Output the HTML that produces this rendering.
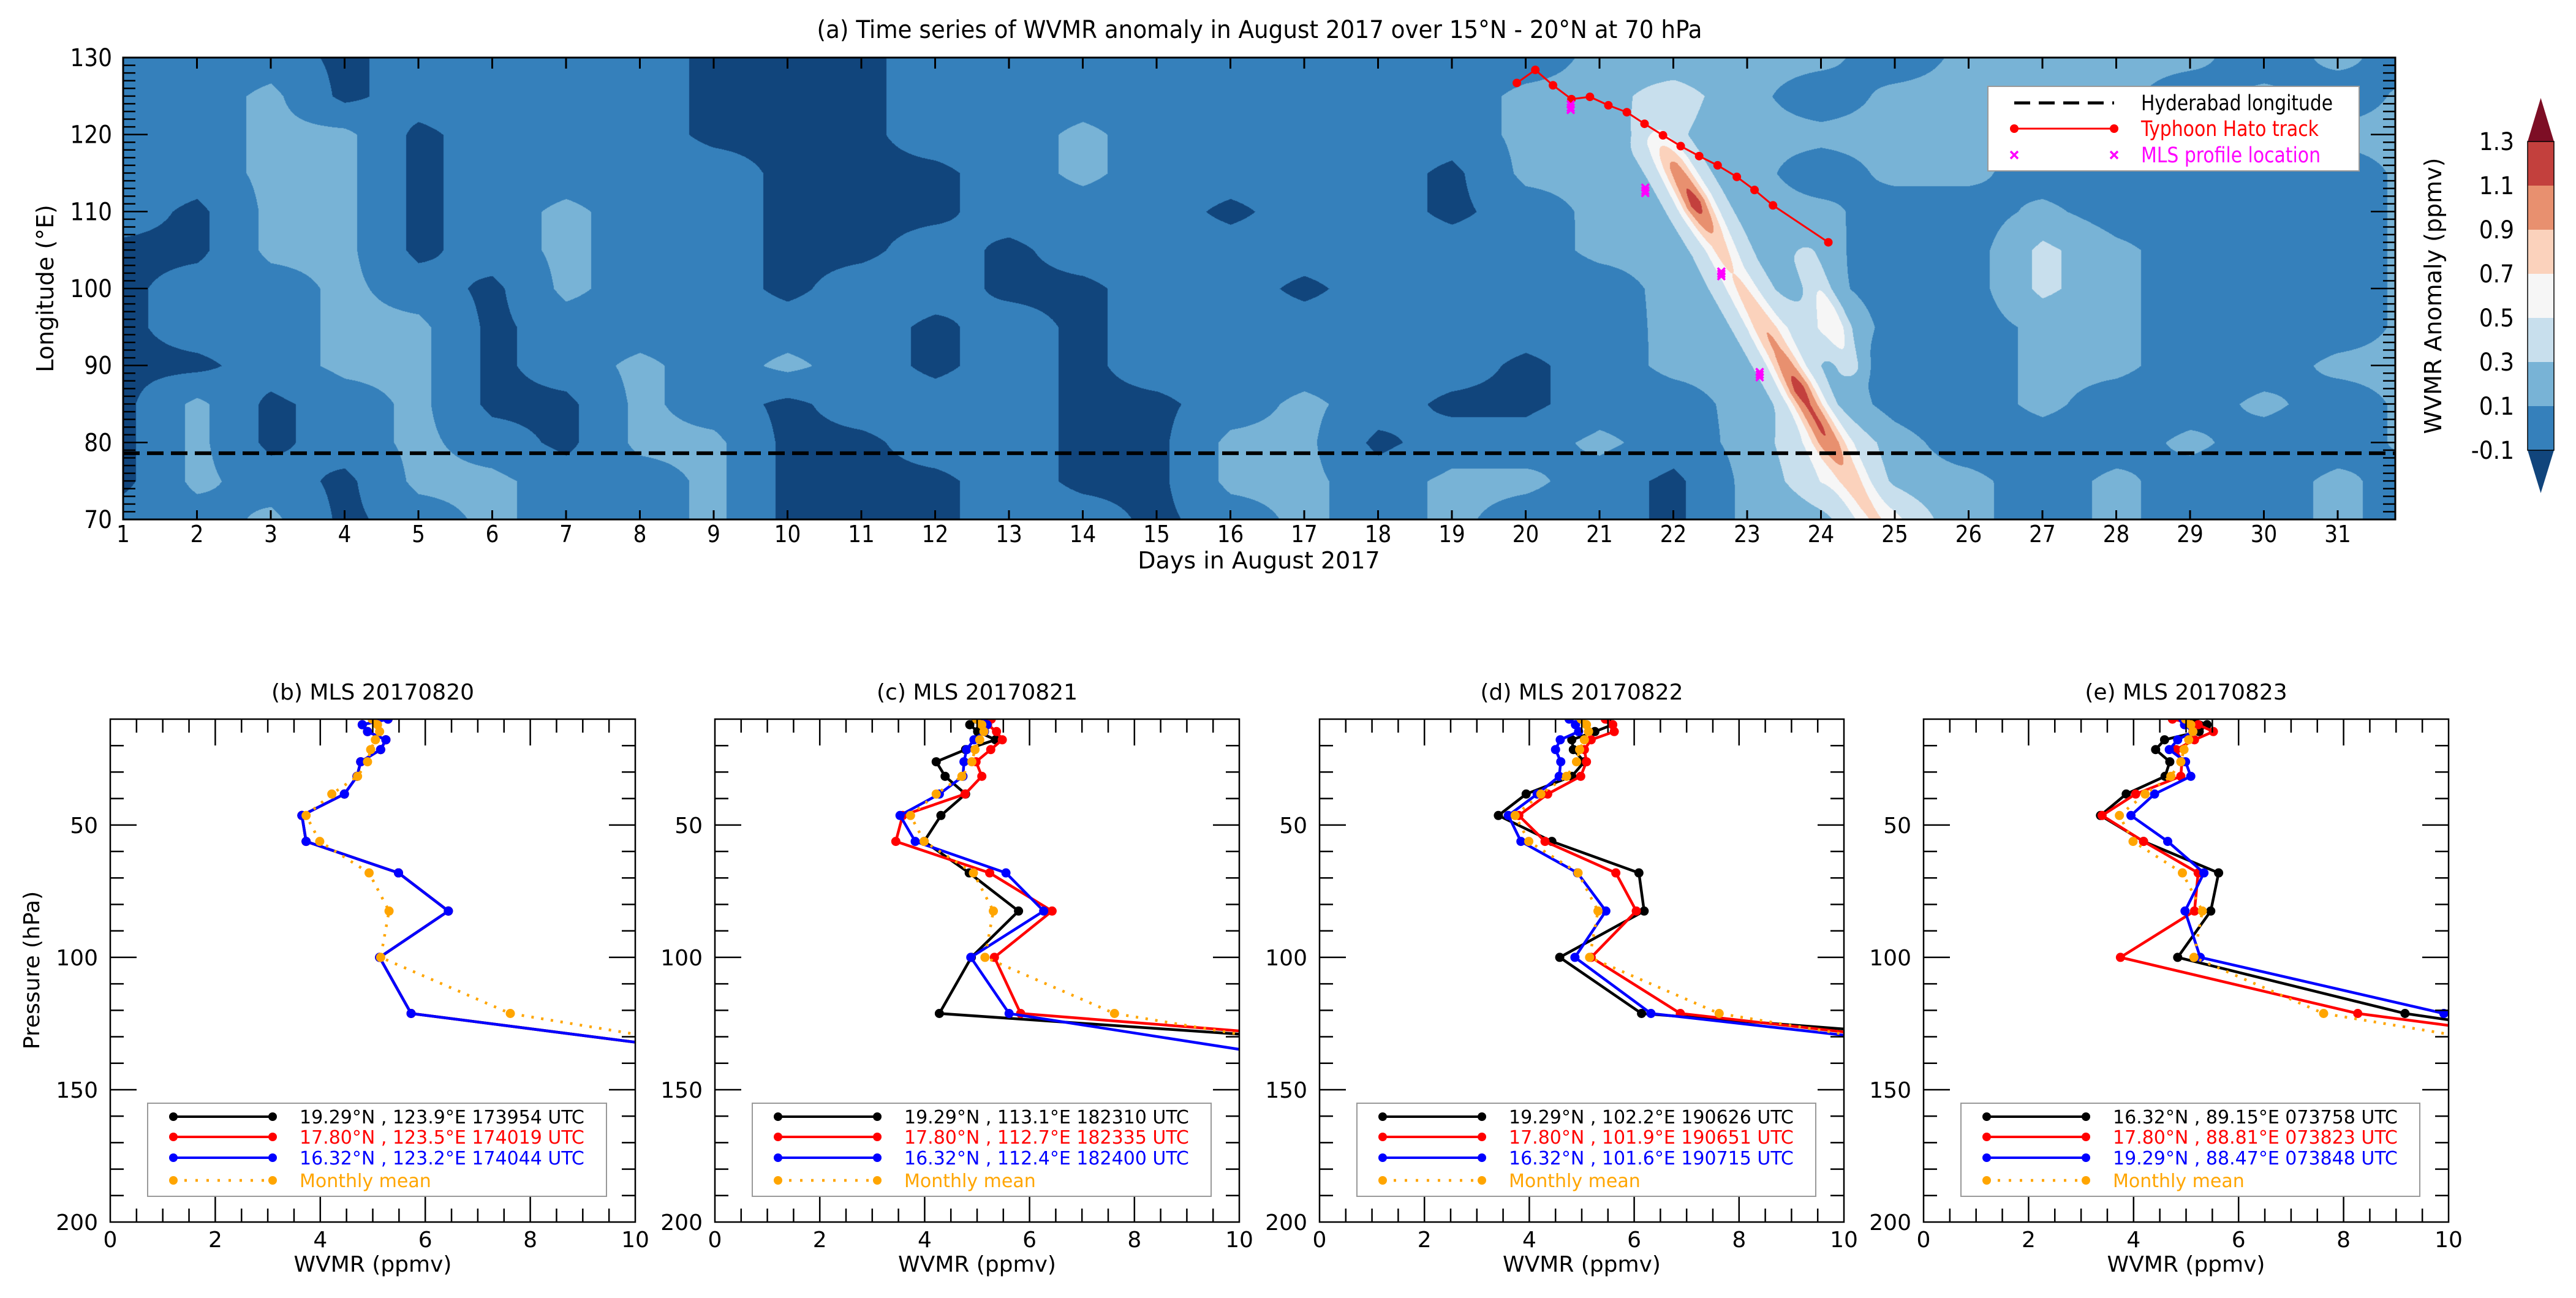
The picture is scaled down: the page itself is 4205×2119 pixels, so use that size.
<!DOCTYPE html>
<html><head><meta charset="utf-8"><style>
html,body{margin:0;padding:0;background:#fff;}
#wrap{position:relative;width:4205px;height:2119px;overflow:hidden;}
#hm{position:absolute;left:201px;top:94px;}
#svg{position:absolute;left:0;top:0;}
.nar{font-family:"Liberation Sans Narrow","DejaVu Sans Condensed","Liberation Sans",sans-serif;}
.dj{font-family:"DejaVu Sans","Liberation Sans",sans-serif;}
</style></head><body>
<div id="wrap">
<canvas id="hm" width="3709" height="754"></canvas>
<svg id="svg" width="4205" height="2119" xmlns="http://www.w3.org/2000/svg"></svg>
</div>
<script>
// ---------- panel (a) data ----------
const gridLons = [130,125,120,115,110,105,100,95,90,85,80,75,70];
// anomaly class per day (1..32) : 0=dark,1=mid,2=light,3=very light
const gridRows = [
"11101111000111111111222212222121",
"11201111000111111112232122221212",
"11220111000112111112222222211122",
"11220111100012111102222122111112",
"10220121100011101101222211211112",
"00220121100101111111222211321112",
"01121021101100110111122211321112",
"01122011111010111111122311221112",
"00122012121010111110122211221122",
"02012002101110012100112211211212",
"02012102200110022011212321112112",
"02102211200010022122102322121121",
"11201211200011012121102232121121"];
const classValues = [-0.15, 0, 0.15, 0.35, 0.6];
const streakDays  = [21.8,22.0,22.3,22.6,22.8,23.1,23.4,23.7,24.0,24.3,24.6,24.8];
const streakLons  = [119,116,111,106,102,97,92,87,82,77,72,69];
const streakPeaks = [0.3,0.6,0.85,0.45,0.35,0.45,0.55,0.85,0.65,0.4,0.3,0.2];
const streak2Days  = [23.8,24.1,24.4];
const streak2Lons  = [104,97,90];
const streak2Peaks = [0.25,0.35,0.25];
const trackDays = [19.88,20.13,20.37,20.62,20.87,21.12,21.37,21.61,21.86,22.10,22.35,22.60,22.86,23.10,23.35,24.10];
const trackLons = [126.7,128.4,126.4,124.6,124.9,123.8,122.9,121.4,119.9,118.5,117.2,116.0,114.5,112.8,110.8,106.0];
const mlsDays = [20.61,20.61,20.61,21.62,21.62,21.62,22.65,22.65,22.65,23.17,23.17,23.17];
const mlsLons = [123.9,123.5,123.2,113.1,112.7,112.4,102.2,101.9,101.6,89.15,88.81,88.47];
const hyderabadLon = 78.6;
const levelBounds = [-0.1,0.1,0.3,0.5,0.7,0.9,1.1,1.3];
const levelColors = ["#11457c","#3580bb","#78b3d6","#c8dfed","#f6f6f6","#fbd2bc","#e8906f","#c3403d","#7d0e25"];
const dayTicks = [1,2,3,4,5,6,7,8,9,10,11,12,13,14,15,16,17,18,19,20,21,22,23,24,25,26,27,28,29,30,31];
const lonTicks = [70,80,90,100,110,120,130];
const cbarTicks = ["1.3","1.1","0.9","0.7","0.5","0.3","0.1","-0.1"];

// ---------- profile data ----------
const pressures = [10,12.1,14.7,17.8,21.5,26.1,31.6,38.3,46.4,56.2,68.1,82.5,100,121.2,146.8];
const monthlyMean = [4.99,5.09,5.13,5.05,4.96,4.9,4.71,4.22,3.73,3.99,4.93,5.31,5.15,7.62,15.4];
const bBlack = [5.29,4.8,4.9,5.25,5.15,4.77,4.7,4.46,3.65,3.73,5.49,6.44,5.13,5.73,15.8];
const bRed   = [5.29,4.8,4.9,5.25,5.15,4.77,4.7,4.46,3.65,3.73,5.49,6.44,5.13,5.73,15.8];
const bBlue  = [5.29,4.8,4.9,5.25,5.15,4.77,4.7,4.46,3.65,3.73,5.49,6.44,5.13,5.73,15.8];
const cBlack = [4.98,4.86,5.01,5.35,4.78,4.22,4.39,4.78,4.31,3.99,4.85,5.79,4.89,4.28,23];
const cRed   = [5.27,5.2,5.37,5.48,5.26,4.98,5.09,4.77,3.58,3.45,5.24,6.43,5.33,5.83,22];
const cBlue  = [5.1,5.19,5.14,4.94,4.8,4.75,4.73,4.28,3.53,3.82,5.55,6.27,4.88,5.61,13.9];
const dBlack = [5.48,5.59,5.25,4.81,4.84,5.05,4.81,3.94,3.41,4.43,6.09,6.19,4.58,6.14,23];
const dRed   = [5.45,5.59,5.62,5.18,5.05,5.09,4.98,4.35,3.8,4.3,5.65,6.04,5.18,6.88,18.3];
const dBlue  = [4.76,4.88,4.94,4.59,4.5,4.6,4.57,4.15,3.6,3.84,4.92,5.46,4.87,6.32,17.8];
const eBlack = [5.13,5.4,5.25,4.59,4.42,4.69,4.6,3.86,3.37,4.19,5.62,5.47,4.84,9.17,18];
const eRed   = [4.74,5.23,5.52,5.16,4.81,4.92,4.9,4.04,3.4,4.19,5.23,5.16,3.75,8.27,18.1];
const eBlue  = [4.94,4.97,5.13,4.84,4.68,4.99,5.09,4.4,3.95,4.65,5.34,4.98,5.27,9.91,22];
const xTicks = [0,2,4,6,8,10];
const pTicks = [50,100,150,200];

// ---------- geometry ----------
const A = {l:201, r:3910, t:94, b:848, d0:1, dPx:120.5, lonTop:130, lonBot:70};
function ax(d){ return A.l + (d - A.d0) * A.dPx; }
function ay(lon){ return A.t + (A.lonTop - lon) / (A.lonTop - A.lonBot) * (A.b - A.t); }

// ---------- heatmap ----------
(function(){
  const cv = document.getElementById('hm');
  const ctx = cv.getContext('2d');
  const W = cv.width, H = cv.height;
  const img = ctx.createImageData(W, H);
  const grid = gridRows.map(r => r.split('').map(c => classValues[+c]));
  const rgb = levelColors.map(h => [parseInt(h.substr(1,2),16),parseInt(h.substr(3,2),16),parseInt(h.substr(5,2),16)]);
  function poly(days, lons, peaks){
    return days.map((d,i)=>({x:ax(d)-A.l, y:ay(lons[i])-A.t, p:peaks[i]}));
  }
  const s1 = poly(streakDays, streakLons, streakPeaks);
  const s2 = poly(streak2Days, streak2Lons, streak2Peaks);
  function segInfo(pts, x, y){
    let best = 1e9, bp = 0;
    for (let i=0;i<pts.length-1;i++){
      const a=pts[i], b=pts[i+1];
      const dx=b.x-a.x, dy=b.y-a.y;
      let t=((x-a.x)*dx+(y-a.y)*dy)/(dx*dx+dy*dy);
      t=Math.max(0,Math.min(1,t));
      const px=a.x+t*dx-x, py=a.y+t*dy-y;
      const dd=px*px+py*py;
      if (dd<best){best=dd; bp=a.p+(b.p-a.p)*t;}
    }
    return [Math.sqrt(best), bp];
  }
  const minX1 = Math.min(...s1.map(p=>p.x))-250, maxX1 = Math.max(...s1.map(p=>p.x))+250;
  const nCols = grid[0].length, nRows = grid.length;
  for (let y=0;y<H;y++){
    const lon = A.lonTop - (y/(A.b-A.t))*(A.lonTop-A.lonBot);
    let gy = (gridLons[0]-lon)/5; if(gy<0)gy=0; if(gy>nRows-1.001)gy=nRows-1.001;
    const iy=Math.floor(gy), fy=gy-iy;
    for (let x=0;x<W;x++){
      const day = A.d0 + x/A.dPx;
      let gx = day-1; if(gx<0)gx=0; if(gx>nCols-1.001)gx=nCols-1.001;
      const ix=Math.floor(gx), fx=gx-ix;
      let v = grid[iy][ix]*(1-fx)*(1-fy)+grid[iy][ix+1]*fx*(1-fy)+grid[iy+1][ix]*(1-fx)*fy+grid[iy+1][ix+1]*fx*fy;
      if (x>minX1 && x<maxX1){
        const [d1,p1]=segInfo(s1,x,y);
        v += p1*Math.exp(-(d1/24)*(d1/24)) + 0.2*Math.exp(-(d1/80)*(d1/80));
        const [d2,p2]=segInfo(s2,x,y);
        v += p2*Math.exp(-(d2/22)*(d2/22));
      }
      let k=0; while(k<levelBounds.length && v>=levelBounds[k]) k++;
      const c=rgb[k], o=(y*W+x)*4;
      img.data[o]=c[0]; img.data[o+1]=c[1]; img.data[o+2]=c[2]; img.data[o+3]=255;
    }
  }
  ctx.putImageData(img,0,0);
})();

// ---------- SVG ----------
const NS='http://www.w3.org/2000/svg';
const svg=document.getElementById('svg');
function mk(tag, attrs, parent){
  const e=document.createElementNS(NS,tag);
  for(const k in attrs) e.setAttribute(k, attrs[k]);
  (parent||svg).appendChild(e);
  return e;
}
function txt(s, attrs, parent){ const e=mk('text',attrs,parent); e.textContent=s; return e; }

// panel (a) overlays
let g = mk('g',{});


let el;
el = mk('line',{x1:A.l,x2:A.r,y1:ay(hyderabadLon),y2:ay(hyderabadLon),stroke:'#000','stroke-width':6,'stroke-dasharray':'27 12'},g);


el = mk('polyline',{points:trackDays.map((d,i)=>ax(d)+','+ay(trackLons[i])).join(' '),fill:'none',stroke:'#ff0000','stroke-width':3},g);


trackDays.forEach((d,i)=>{
  const c = mk('circle',{cx:ax(d),cy:ay(trackLons[i]),r:7,fill:'#ff0000'},g);
  
  
});
mlsDays.forEach((d,i)=>{
  const x=ax(d), y=ay(mlsLons[i]), s=6;
  const m = mk('path',{d:`M${x-s},${y-s}L${x+s},${y+s}M${x-s},${y+s}L${x+s},${y-s}`,stroke:'#ff00ff','stroke-width':3.5,fill:'none'},g);
  
  
});
el = mk('rect',{x:A.l,y:A.t,width:A.r-A.l,height:A.b-A.t,fill:'none',stroke:'#000','stroke-width':3},g);


dayTicks.forEach(d=>{
  const x=ax(d);
  const t1=mk('line',{x1:x,x2:x,y1:A.b,y2:A.b-15,stroke:'#000','stroke-width':3},g);
  
  
  const t2=mk('line',{x1:x,x2:x,y1:A.t,y2:A.t+18,stroke:'#000','stroke-width':3},g);
  
  
  const lb=txt(String(d),{x:x,y:885,'font-size':38,'text-anchor':'middle',class:'nar'},g);
  
  
});
for(let lon=A.lonBot; lon<=A.lonTop; lon++){
  const y=ay(lon), major=(lon%10===0);
  const len=major?40:20;
  const t1=mk('line',{x1:A.l,x2:A.l+len,y1:y,y2:y,stroke:'#000','stroke-width':2.5},g);
  
  
  const t2=mk('line',{x1:A.r,x2:A.r-len,y1:y,y2:y,stroke:'#000','stroke-width':2.5},g);
  
  
}
lonTicks.forEach(lon=>{
  const lb=txt(String(lon),{x:183,y:ay(lon)+14,'font-size':40,'text-anchor':'end',class:'nar'},g);
  
  
});
el=txt('(a) Time series of WVMR anomaly in August 2017 over 15°N - 20°N at 70 hPa',{x:2056,y:62,'font-size':40,'text-anchor':'middle',class:'nar',textLength:1445,lengthAdjust:'spacingAndGlyphs'},g);


el=txt('Days in August 2017',{x:2055,y:928,'font-size':38,'text-anchor':'middle',class:'dj'},g);


el=txt('Longitude (°E)',{x:0,y:0,'font-size':38,'text-anchor':'middle',class:'dj',transform:'translate(87,471) rotate(-90)'},g);



// legend (a)
let lg=mk('g',{},g);


el=mk('rect',{x:3245,y:141,width:606,height:138,fill:'#fff',stroke:'#999','stroke-width':2},lg);


el=mk('line',{x1:3288,x2:3451,y1:168,y2:168,stroke:'#000','stroke-width':5,'stroke-dasharray':'26 14'},lg);


el=txt('Hyderabad longitude',{x:3495,y:180,'font-size':35,class:'nar',textLength:313,lengthAdjust:'spacingAndGlyphs'},lg);


el=mk('line',{x1:3288,x2:3451,y1:210,y2:210,stroke:'#ff0000','stroke-width':3},lg);


[3288,3451].forEach(x=>{const c=mk('circle',{cx:x,cy:210,r:7,fill:'#ff0000'},lg);

});
el=txt('Typhoon Hato track',{x:3495,y:222,'font-size':35,class:'nar',fill:'#ff0000',textLength:290,lengthAdjust:'spacingAndGlyphs'},lg);


[3288,3451].forEach(x=>{const m=mk('path',{d:`M${x-6},${247}L${x+6},${259}M${x-6},${259}L${x+6},${247}`,stroke:'#ff00ff','stroke-width':3.5},lg);

});
el=txt('MLS profile location',{x:3495,y:265,'font-size':35,class:'nar',fill:'#ff00ff',textLength:293,lengthAdjust:'spacingAndGlyphs'},lg);



// colorbar
let cb=mk('g',{});


const cbL=4126, cbR=4169, cbTop=231, cbStep=72;
el=mk('path',{d:`M${cbL},${cbTop}L${(cbL+cbR)/2},160L${cbR},${cbTop}Z`,fill:levelColors[8]},cb);


for(let i=0;i<7;i++){
  const r=mk('rect',{x:cbL,y:cbTop+i*cbStep,width:cbR-cbL,height:cbStep+0.5,fill:levelColors[7-i]},cb);
  
  
}
const cbBot=cbTop+7*cbStep;
el=mk('path',{d:`M${cbL},${cbBot}L${(cbL+cbR)/2},805L${cbR},${cbBot}Z`,fill:levelColors[0]},cb);


el=mk('rect',{x:cbL,y:cbTop,width:cbR-cbL,height:cbBot-cbTop,fill:'none',stroke:'#000','stroke-width':1.5},cb);


cbarTicks.forEach((s,i)=>{
  const lb=txt(s,{x:4104,y:cbTop+i*cbStep+14,'font-size':40,'text-anchor':'end',class:'nar'},cb);
  
  
});
el=txt('WVMR Anomaly (ppmv)',{x:0,y:0,'font-size':38,'text-anchor':'middle',class:'dj',transform:'translate(3985,483) rotate(-90)'},cb);



// ---------- profile panels ----------
const PT=1174, PB=1995;
function py(p){ return PT + (p-10)/(200-10)*(PB-PT); }
const panels=[
 {id:'b',l:180,r:1037,title:'(b) MLS 20170820',k:bBlack,rd:bRed,bl:bBlue,
  labs:['19.29°N , 123.9°E 173954 UTC','17.80°N , 123.5°E 174019 UTC','16.32°N , 123.2°E 174044 UTC']},
 {id:'c',l:1167,r:2023,title:'(c) MLS 20170821',k:cBlack,rd:cRed,bl:cBlue,
  labs:['19.29°N , 113.1°E 182310 UTC','17.80°N , 112.7°E 182335 UTC','16.32°N , 112.4°E 182400 UTC']},
 {id:'d',l:2154,r:3010,title:'(d) MLS 20170822',k:dBlack,rd:dRed,bl:dBlue,
  labs:['19.29°N , 102.2°E 190626 UTC','17.80°N , 101.9°E 190651 UTC','16.32°N , 101.6°E 190715 UTC']},
 {id:'e',l:3140,r:3997,title:'(e) MLS 20170823',k:eBlack,rd:eRed,bl:eBlue,
  labs:['16.32°N , 89.15°E 073758 UTC','17.80°N , 88.81°E 073823 UTC','19.29°N , 88.47°E 073848 UTC']}
];
const defs=mk('defs',{});
panels.forEach(P=>{
  const px=v=>P.l+v/10*(P.r-P.l);
  const pg=mk('g',{});
  
  
  const cp=mk('clipPath',{id:'clip'+P.id},defs);
  mk('rect',{x:P.l,y:PT,width:P.r-P.l,height:PB-PT},cp);
  const series=[[P.k,'#000','black'],[P.rd,'#ff0000','red'],[P.bl,'#0000ff','blue']];
  const sg=mk('g',{'clip-path':`url(#clip${P.id})`},pg);
  
  
  series.forEach(([vals,col,nm])=>{
    const ln=mk('polyline',{points:vals.map((v,i)=>px(v)+','+py(pressures[i])).join(' '),fill:'none',stroke:col,'stroke-width':4.5,'stroke-linejoin':'round'},sg);
    
    
    vals.forEach((v,i)=>{
      const c=mk('circle',{cx:px(v),cy:py(pressures[i]),r:7.5,fill:col},sg);
      
      
    });
  });
  const ml=mk('polyline',{points:monthlyMean.map((v,i)=>px(v)+','+py(pressures[i])).join(' '),fill:'none',stroke:'#ffa500','stroke-width':4.5,'stroke-dasharray':'4 12'},sg);
  
  
  monthlyMean.forEach((v,i)=>{
    const c=mk('circle',{cx:px(v),cy:py(pressures[i]),r:7.5,fill:'#ffa500'},sg);
    
    
  });
  let f=mk('rect',{x:P.l,y:PT,width:P.r-P.l,height:PB-PT,fill:'none',stroke:'#000','stroke-width':2.5},pg);
  
  
  for(let v=0.5; v<10; v+=0.5){
    const major=(Math.abs(v%2)<1e-6), len=major?43:22, x=px(v);
    const t1=mk('line',{x1:x,x2:x,y1:PB,y2:PB-len,stroke:'#000','stroke-width':2.5},pg);
    
    
    const t2=mk('line',{x1:x,x2:x,y1:PT,y2:PT+len,stroke:'#000','stroke-width':2.5},pg);
    
    
  }
  for(let p=20;p<200;p+=10){
    const major=(p%50===0), len=major?43:22, y=py(p);
    const t1=mk('line',{x1:P.l,x2:P.l+len,y1:y,y2:y,stroke:'#000','stroke-width':2.5},pg);
    
    
    const t2=mk('line',{x1:P.r,x2:P.r-len,y1:y,y2:y,stroke:'#000','stroke-width':2.5},pg);
    
    
  }
  xTicks.forEach(v=>{
    const lb=txt(String(v),{x:px(v),y:2036,'font-size':36,'text-anchor':'middle',class:'dj'},pg);
    
    
  });
  pTicks.forEach(p=>{
    const lb=txt(String(p),{x:P.l-20,y:py(p)+13,'font-size':36,'text-anchor':'end',class:'dj'},pg);
    
    
  });
  let t=txt(P.title,{x:(P.l+P.r)/2,y:1142,'font-size':36,'text-anchor':'middle',class:'dj'},pg);
  
  
  t=txt('WVMR (ppmv)',{x:(P.l+P.r)/2,y:2076,'font-size':36,'text-anchor':'middle',class:'dj'},pg);
  
  
  const L=mk('g',{},pg);
  
  
  const bx=mk('rect',{x:P.l+61,y:1801,width:749,height:152,fill:'#fff',stroke:'#999','stroke-width':2},L);
  
  
  const rows=[[P.labs[0],'#000',1823,false],[P.labs[1],'#ff0000',1856,false],[P.labs[2],'#0000ff',1890,false],['Monthly mean','#ffa500',1927,true]];
  rows.forEach(([s,col,y,dot])=>{
    const ll=mk('line',{x1:P.l+103,x2:P.l+265,y1:y,y2:y,stroke:col,'stroke-width':dot?4.5:4,'stroke-dasharray':dot?'4 14':'none'},L);
    
    
    [P.l+103,P.l+265].forEach(x=>{const c=mk('circle',{cx:x,cy:y,r:7,fill:col},L);
    
    });
    const tl=txt(s,{x:P.l+309,y:y+11,'font-size':30,class:'dj',fill:col},L);
    
    
  });
});
el=txt('Pressure (hPa)',{x:0,y:0,'font-size':36,'text-anchor':'middle',class:'dj',transform:'translate(64,1584) rotate(-90)'});


</script>
</body></html>
